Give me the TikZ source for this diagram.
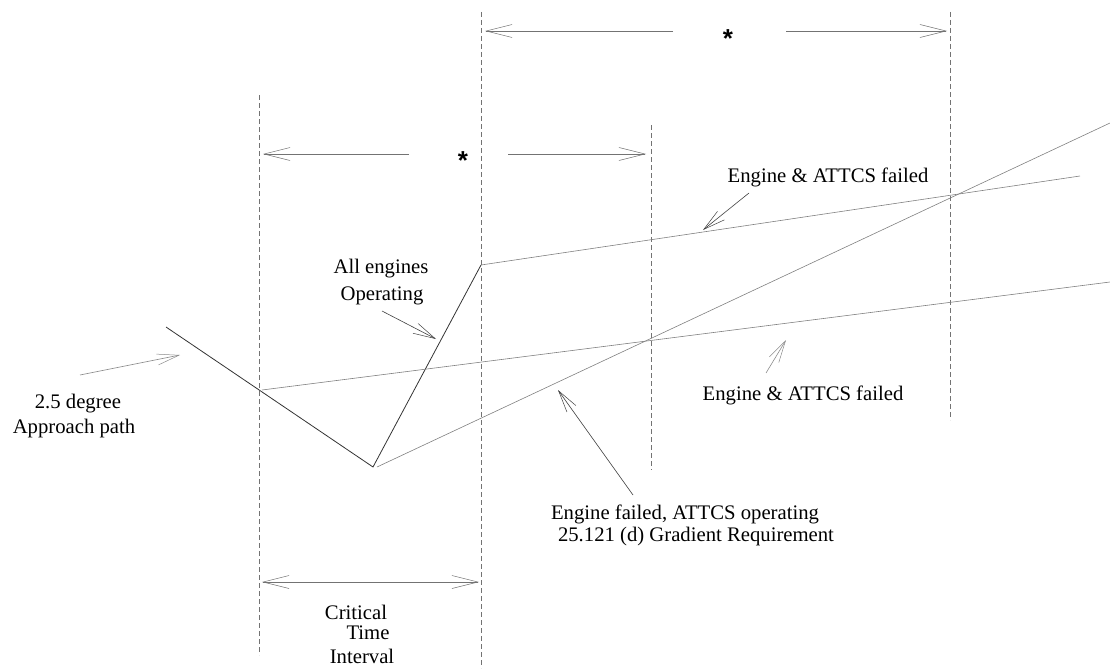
\documentclass[tikz,border=0pt]{standalone}
\usepackage{fontspec}
\setmainfont{Liberation Serif}
\newfontfamily\starfont{Liberation Sans}
\usetikzlibrary{arrows.meta}
\begin{document}
\begin{tikzpicture}[x=1pt,y=-1pt,
  lbl/.style={font=\fontsize{20.7}{24}\selectfont, inner sep=0pt, anchor=base},
  starlbl/.style={font=\starfont\bfseries\fontsize{26}{28}\selectfont, inner sep=0pt, anchor=base},
  vline/.style={draw=black!55, line width=0.6pt, dash pattern=on 5pt off 3pt},
  dimarr/.style={draw=black!55, line width=0.7pt, -{Straight Barb[length=26pt,width=13pt,line width=0.5pt]}},
  ptr/.style={draw=black!75, line width=0.6pt, -{Straight Barb[length=22pt,width=11pt,line width=0.5pt]}},
  ptrl/.style={ptr, draw=black!45},
  pathline/.style={draw=black!80, line width=0.8pt},
  failline/.style={draw=black!50, line width=0.6pt}
]
\useasboundingbox (0,0) rectangle (1110,669);

% graph points
\coordinate (A0) at (166,327);
\coordinate (V) at (373,467);
\coordinate (P) at (481,265);
\coordinate (U) at (1080,176);
\coordinate (L0) at (262,390);
\coordinate (L1) at (1110,282);
\coordinate (D0) at (377,467);
\coordinate (D1) at (1110,123);

% vertical dashed lines
\coordinate (v1t) at (259,95);  \coordinate (v1b) at (259,655);
\coordinate (v2t) at (481,12);  \coordinate (v2b) at (481,668);
\coordinate (v3t) at (651,125); \coordinate (v3b) at (651,470);
\coordinate (v4t) at (950,12);  \coordinate (v4b) at (950,420);
\draw[vline] (v1t) -- (v1b);
\draw[vline] (v2t) -- (v2b);
\draw[vline] (v3t) -- (v3b);
\draw[vline] (v4t) -- (v4b);

% flight paths
\draw[pathline] (A0) -- (V) -- (P);
\draw[failline] (P) -- (U);
\draw[failline] (L0) -- (L1);
\draw[failline] (D0) -- (D1);

% dimension arrows
\node[starlbl] (s1) at (728,48) {*};
\coordinate (t1l) at (485,31); \coordinate (t1a) at (673,31);
\coordinate (t1b) at (786,31); \coordinate (t1r) at (947,31);
\draw[dimarr] (t1a) -- (t1l);
\draw[dimarr] (t1b) -- (t1r);

\node[starlbl] (s2) at (463,169) {*};
\coordinate (t2l) at (263,154); \coordinate (t2a) at (409,154);
\coordinate (t2b) at (508,154); \coordinate (t2r) at (646,154);
\draw[dimarr] (t2a) -- (t2l);
\draw[dimarr] (t2b) -- (t2r);

\coordinate (t3l) at (262,582); \coordinate (t3r) at (479,582);
\coordinate (t3m) at (370,582);
\draw[dimarr] (t3m) -- (t3l);
\draw[dimarr] (t3m) -- (t3r);

% labels
\node[lbl] (apr1) at (78,408) {2.5 degree};
\node[lbl] (apr2) at (74,433) {Approach path};
\node[lbl] (all1) at (381,273) {All engines};
\node[lbl] (all2) at (382,300) {Operating};
\node[lbl] (eaf1) at (828,182) {Engine \& ATTCS failed};
\node[lbl] (eaf2) at (803,400) {Engine \& ATTCS failed};
\node[lbl] (efo1) at (685,519) {Engine failed, ATTCS operating};
\node[lbl] (efo2) at (696,541) {25.121 (d) Gradient Requirement};
\node[lbl] (ct1) at (356,619) {Critical};
\node[lbl] (ct2) at (368,639) {Time};
\node[lbl] (ct3) at (362,663) {Interval};

% pointer arrows
\coordinate (pa0) at (80,375);  \coordinate (pa1) at (180,355);
\coordinate (pb0) at (382,311); \coordinate (pb1) at (436,339);
\coordinate (pc0) at (749,193); \coordinate (pc1) at (703,230);
\coordinate (pd0) at (766,373); \coordinate (pd1) at (786,340);
\coordinate (pe0) at (633,495); \coordinate (pe1) at (558,390);
\draw[ptrl] (pa0) -- (pa1);
\draw[ptr] (pb0) -- (pb1);
\draw[ptr] (pc0) -- (pc1);
\draw[ptrl] (pd0) -- (pd1);
\draw[ptr] (pe0) -- (pe1);
\end{tikzpicture}
\end{document}
